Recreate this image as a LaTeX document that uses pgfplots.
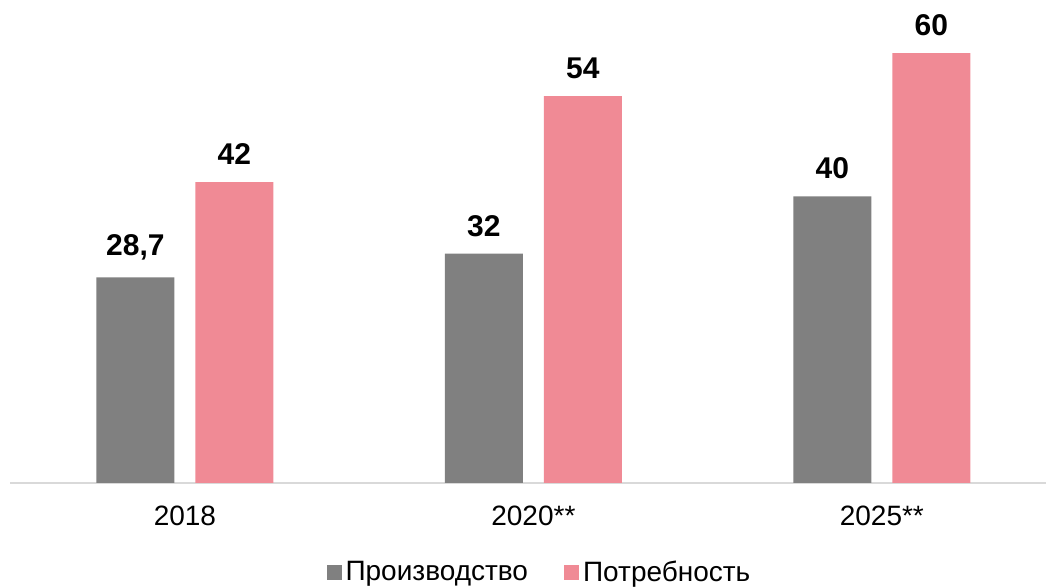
\documentclass[border=0pt]{standalone}
\usepackage{fontspec}
\setmainfont{Liberation Sans}
\usepackage{pgfplots}
\pgfplotsset{compat=1.18}

\definecolor{prodgray}{HTML}{808080}
\definecolor{needpink}{HTML}{F08A95}
\definecolor{baseline}{HTML}{D9D9D9}

\begin{document}
\begin{tikzpicture}
\path[use as bounding box] (0,0) rectangle (523pt,294pt);
\begin{axis}[
    at={(5pt,52.5pt)}, anchor=south west,
    scale only axis,
    width=518pt, height=241.5pt,
    ybar=10.5pt,
    bar width=39pt,
    xmin=-0.502, xmax=2.471,
    ymin=0, ymax=67.4,
    axis y line=none,
    axis x line*=bottom,
    axis line style={-, draw=baseline, line width=1.2pt},
    xtick={0,1,2},
    xticklabels={2018, 2020**, 2025**},
    major tick length=0pt,
    /pgf/number format/assume math mode=true,
    xticklabel style={font=\fontsize{14}{16}\selectfont, yshift=-8pt},
    nodes near coords={\pgfmathprintnumber[use comma]{\pgfplotspointmeta}},
    nodes near coords style={font=\fontsize{15}{18}\selectfont\bfseries, yshift=5pt, text=black},
    legend columns=2,
    legend style={draw=none, fill=none, at={(0.512,-0.186)}, anchor=center,
        font=\fontsize{14}{16}\selectfont,
        /tikz/every even column/.append style={column sep=16pt}},
    legend image code/.code={\fill[#1] (0pt,-3.8pt) rectangle (7.5pt,3.7pt);},
    clip=false,
]
\addplot[fill=prodgray, draw=none] coordinates {(0,28.7) (1,32) (2,40)};
\addplot[fill=needpink, draw=none] coordinates {(0,42) (1,54) (2,60)};
\legend{Производство, Потребность}
\end{axis}
\end{tikzpicture}
\end{document}
